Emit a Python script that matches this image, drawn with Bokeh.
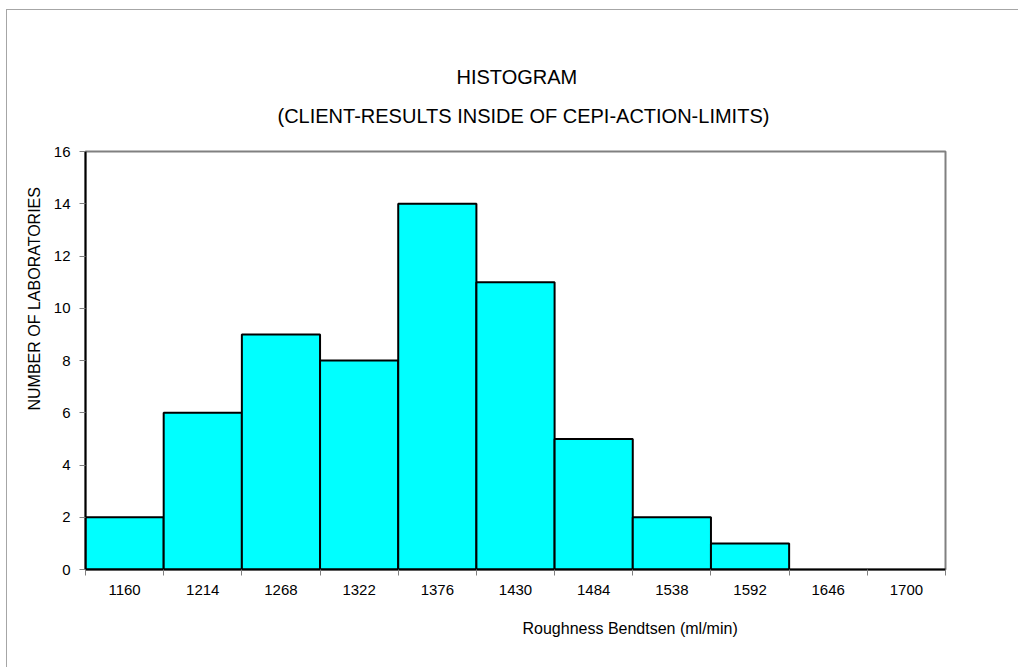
from bokeh.plotting import figure
from bokeh.models import FixedTicker, Title
from bokeh.embed import file_html
from bokeh.resources import INLINE

# ---- data ----
bin_labels = ["1160", "1214", "1268", "1322", "1376", "1430", "1484", "1538", "1592", "1646", "1700"]
counts = [2, 6, 9, 8, 14, 11, 5, 2, 1, 0, 0]
y_ticks = [0, 2, 4, 6, 8, 10, 12, 14, 16]
title_text = "HISTOGRAM"
subtitle_text = "(CLIENT-RESULTS INSIDE OF CEPI-ACTION-LIMITS)"
x_title = "Roughness Bendtsen (ml/min)"
y_title = "NUMBER OF LABORATORIES"

FONT = "Liberation Sans"
W, H = 1012, 658
n = len(bin_labels)

p = figure(width=W, height=H, output_backend="svg", toolbar_location=None,
           x_range=(0, n), y_range=(0, y_ticks[-1]),
           min_border_left=78, min_border_right=74,
           min_border_top=141, min_border_bottom=99)
p.background_fill_color = "white"
p.border_fill_color = "white"
p.outline_line_color = "#808080"
p.outline_line_width = 2
p.xgrid.grid_line_color = None
p.ygrid.grid_line_color = None
p.styles = {"border-left": "1px solid #a6a6a6", "border-top": "1px solid #a6a6a6",
            "margin-left": "6px", "margin-top": "9px"}

lefts = [i for i, c in enumerate(counts) if c > 0]
tops = [c for c in counts if c > 0]
p.quad(left=lefts, right=[l + 1 for l in lefts], bottom=0, top=tops,
       fill_color="#00FFFF", line_color="black", line_width=2)

# x axis: labels at bin centres, ticks at bin edges
xa = p.xaxis[0]
xa.ticker = FixedTicker(ticks=[i + 0.5 for i in range(n)], minor_ticks=list(range(n + 1)))
xa.major_label_overrides = {i + 0.5: lab for i, lab in enumerate(bin_labels)}
xa.major_tick_line_color = None
xa.major_tick_out = 6
xa.major_tick_in = 0
xa.minor_tick_line_color = "#808080"
xa.minor_tick_out = 6
xa.minor_tick_in = 0
xa.axis_line_color = "black"
xa.axis_line_width = 2
xa.major_label_text_font = FONT
xa.major_label_text_font_size = "15px"
xa.major_label_text_color = "black"
xa.major_label_standoff = 9

ya = p.yaxis[0]
ya.ticker = FixedTicker(ticks=y_ticks)
ya.minor_tick_line_color = None
ya.major_tick_line_color = "#808080"
ya.major_tick_out = 6
ya.major_tick_in = 0
ya.axis_line_color = "black"
ya.axis_line_width = 2
ya.major_label_text_font = FONT
ya.major_label_text_font_size = "15px"
ya.major_label_text_color = "black"
ya.major_label_standoff = 9

def ttl(text, size, offset, standoff):
    return Title(text=text, align="left", offset=offset, standoff=standoff, text_font=FONT,
                 text_font_size=size, text_font_style="normal", text_color="black")

p.add_layout(ttl(subtitle_text, "20px", 192, 49), "above")
p.add_layout(ttl(title_text, "20px", 371, -18), "above")
p.add_layout(ttl(x_title, "16px", 437, 40), "below")
p.add_layout(ttl(y_title, "16px", 159, 15), "left")

open("out.html", "w").write(file_html(p, INLINE))
